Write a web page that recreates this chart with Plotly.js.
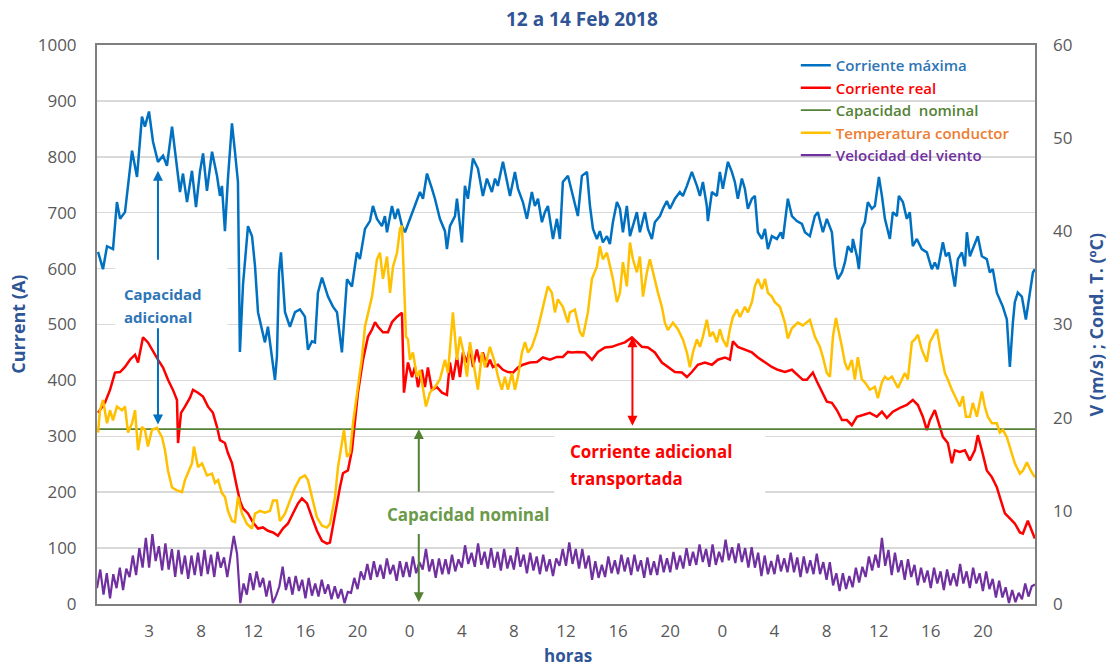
<!DOCTYPE html>
<html>
<head>
<meta charset="utf-8">
<script src="https://cdn.plot.ly/plotly-3.0.1.min.js"></script>
<style>
  html, body { margin: 0; padding: 0; background: #ffffff; }
  #chart { width: 1110px; height: 668px; }
</style>
</head>
<body>
<div id="chart"></div>
<script>
// ---------------- DATA ----------------
const titulo = "12 a 14 Feb 2018";
const tickHoras = [4, 8, 12, 16, 20, 24, 28, 32, 36, 40, 44, 48, 52, 56, 60, 64, 68];
const tickEtiquetas = ["3", "8", "12", "16", "20", "0", "4", "8", "12", "16", "20", "0", "4", "8", "12", "16", "20"];

const capacidadNominal = 313; // A

// Corriente máxima (A)
const horaMax = [0.08,0.46,0.77,1.23,1.53,1.77,2.15,2.69,3.07,3.45,3.68,3.99,4.30,4.68,5.07,5.37,5.76,6.14,6.37,6.60,6.91,7.29,7.60,7.90,8.14,8.44,8.83,9.21,9.44,9.59,9.82,10.05,10.36,10.59,10.82,10.97,11.21,11.59,11.90,12.13,12.36,12.66,12.89,13.12,13.43,13.66,13.81,13.97,14.12,14.43,14.81,15.20,15.58,15.96,16.19,16.50,16.73,16.96,17.27,17.73,18.11,18.42,18.80,19.19,19.57,19.95,20.18,20.57,20.95,21.18,21.49,21.87,22.10,22.26,22.64,22.87,23.10,23.41,23.64,24.02,24.41,24.79,25.02,25.33,25.71,25.94,26.32,26.71,26.86,27.09,27.48,27.63,28.01,28.24,28.47,28.86,29.24,29.62,29.93,30.31,30.55,30.77,31.16,31.47,31.70,32.08,32.31,32.69,33.00,33.38,33.61,33.85,34.15,34.38,34.61,35.00,35.30,35.53,35.76,36.15,36.53,36.91,37.22,37.61,37.84,38.07,38.37,38.60,38.83,39.14,39.37,39.60,39.91,40.14,40.37,40.67,40.91,41.14,41.44,41.67,42.06,42.29,42.59,42.82,43.21,43.44,43.74,43.98,44.36,44.74,44.97,45.28,45.66,46.05,46.28,46.51,46.81,46.89,47.20,47.58,47.81,48.04,48.43,48.73,48.96,49.19,49.50,49.73,49.96,50.27,50.50,50.73,51.04,51.27,51.50,51.80,52.19,52.49,52.65,53.03,53.34,53.72,54.11,54.34,54.72,55.10,55.33,55.72,56.02,56.41,56.64,56.87,57.18,57.41,57.64,57.94,58.02,58.33,58.48,58.71,58.94,59.17,59.48,59.71,60.02,60.25,60.48,60.86,61.09,61.40,61.55,61.86,62.16,62.39,62.62,62.93,63.31,63.70,64.08,64.31,64.54,64.93,65.16,65.39,65.69,65.85,66.08,66.39,66.62,66.77,67.00,67.23,67.61,67.92,68.30,68.53,68.76,69.07,69.30,69.53,69.84,70.07,70.30,70.45,70.68,70.99,71.30,71.61,71.84,71.99];
const corrienteMaxima = [630,599,640,635,719,689,701,811,764,872,854,881,827,791,802,784,854,784,737,770,719,775,710,773,806,739,809,766,730,748,667,761,860,809,755,451,572,676,658,604,522,491,468,496,437,401,442,593,629,522,496,522,527,514,455,470,468,557,584,550,532,522,450,581,568,629,617,671,685,712,689,676,694,665,712,689,707,676,665,689,712,737,725,770,743,725,689,667,635,676,694,725,647,748,725,797,779,730,761,737,761,748,791,755,730,773,743,719,689,737,712,725,683,701,712,653,689,653,755,766,730,694,766,773,712,671,653,667,647,658,644,683,719,707,665,712,658,676,701,665,701,671,653,683,694,707,721,707,725,737,730,748,773,748,730,755,712,685,737,730,773,743,791,773,755,725,761,743,707,725,730,665,653,671,635,658,653,665,653,725,694,685,680,665,658,694,701,665,689,665,604,581,593,611,640,629,653,622,599,671,683,719,707,712,764,730,689,653,701,694,730,719,689,701,640,653,635,629,599,611,599,647,622,629,593,568,617,629,604,665,622,635,658,622,617,593,599,557,545,532,509,424,503,540,557,550,509,557,593,599];

// Corriente real (A)
const horaReal = [0.08,0.61,1.00,1.38,1.77,2.15,2.53,2.92,3.15,3.53,3.91,4.30,4.68,5.07,5.45,5.83,6.14,6.22,6.45,6.75,7.14,7.37,7.75,8.14,8.52,8.90,9.21,9.44,9.82,10.05,10.36,10.74,10.97,11.21,11.59,11.97,12.36,12.74,13.12,13.51,13.89,14.27,14.66,15.04,15.43,15.73,16.12,16.50,16.88,17.27,17.65,17.88,18.27,18.65,18.88,19.26,19.57,19.80,20.03,20.42,20.80,21.11,21.34,21.57,21.95,22.33,22.64,23.03,23.41,23.56,23.87,24.18,24.41,24.64,24.94,25.17,25.40,25.71,26.09,26.48,26.86,27.09,27.32,27.63,27.86,28.09,28.40,28.63,28.86,29.16,29.39,29.62,29.93,30.16,30.39,30.78,31.16,31.54,31.93,32.31,32.69,33.23,33.77,34.23,34.77,35.30,35.76,36.15,36.45,36.91,37.45,37.99,38.45,38.99,39.52,39.99,40.52,41.06,41.44,41.83,42.29,42.82,43.36,43.82,44.36,44.90,45.28,45.66,46.12,46.66,47.20,47.66,48.20,48.58,48.81,49.19,49.73,50.27,50.73,51.27,51.80,52.26,52.80,53.34,53.80,54.18,54.49,54.95,55.26,55.64,56.02,56.41,56.79,57.18,57.56,57.94,58.33,58.79,59.32,59.86,60.25,60.63,61.09,61.63,62.16,62.62,63.01,63.39,63.70,63.93,64.31,64.54,64.93,65.31,65.62,65.85,66.23,66.62,67.00,67.38,67.61,67.92,68.30,68.69,69.07,69.30,69.69,70.07,70.45,70.84,71.07,71.45,71.76,71.99];
const corrienteReal = [342,360,383,414,415,424,437,446,432,477,468,451,437,423,401,383,365,288,342,353,369,383,378,371,353,342,317,293,288,270,252,209,185,171,162,146,135,137,131,128,122,135,144,162,180,189,180,155,131,113,108,110,162,209,234,239,275,324,378,437,478,491,504,496,486,486,504,514,521,378,432,406,424,388,419,388,423,383,388,378,374,432,401,442,406,450,432,460,424,455,432,450,424,437,424,428,419,415,414,423,428,432,433,441,437,442,442,451,450,451,450,437,451,459,460,464,468,477,468,460,459,450,432,424,415,414,406,415,428,432,428,437,441,437,470,460,455,450,441,433,424,419,415,419,410,401,401,414,398,380,362,360,347,329,329,320,335,338,342,335,344,333,344,351,356,365,356,335,311,329,347,329,299,288,252,275,272,275,257,275,302,275,239,227,209,191,162,153,144,128,126,149,131,117];

// Temperatura conductor (ºC)
const horaTemp = [0.08,0.23,0.46,0.77,1.00,1.23,1.53,1.92,2.15,2.38,2.69,2.92,3.15,3.45,3.68,3.91,4.22,4.60,4.99,5.22,5.45,5.76,6.14,6.52,6.75,6.98,7.29,7.44,7.75,8.06,8.44,8.83,9.06,9.29,9.59,9.82,10.05,10.36,10.59,10.82,11.13,11.51,11.90,12.13,12.51,12.89,13.28,13.51,13.81,14.04,14.43,14.81,15.20,15.58,15.96,16.19,16.50,16.88,17.27,17.65,17.88,18.27,18.50,18.80,18.96,19.19,19.42,19.65,19.95,20.34,20.57,20.80,21.11,21.49,21.72,21.95,22.26,22.49,22.72,23.03,23.26,23.41,23.56,23.72,23.87,24.02,24.25,24.56,24.79,25.02,25.25,25.56,25.94,26.32,26.71,26.94,27.32,27.63,27.86,28.09,28.40,28.63,29.01,29.24,29.55,29.78,30.16,30.55,30.78,31.08,31.31,31.54,31.85,32.08,32.31,32.62,32.85,33.08,33.38,33.77,34.00,34.23,34.61,34.92,35.15,35.38,35.76,36.15,36.30,36.68,37.07,37.30,37.68,37.99,38.37,38.60,38.83,39.14,39.37,39.60,39.91,40.14,40.37,40.67,40.91,41.14,41.44,41.67,41.91,42.21,42.44,42.67,43.06,43.36,43.59,43.82,44.21,44.59,44.97,45.28,45.51,45.74,46.05,46.28,46.51,46.81,47.05,47.28,47.58,47.81,48.04,48.35,48.58,48.81,49.12,49.35,49.73,49.96,50.27,50.50,50.73,51.04,51.27,51.50,51.80,52.03,52.42,52.80,53.03,53.34,53.80,54.18,54.72,55.10,55.49,55.72,56.02,56.26,56.49,56.72,56.87,57.18,57.41,57.64,57.94,58.17,58.40,58.71,58.94,59.32,59.71,59.94,60.25,60.48,60.71,61.02,61.25,61.48,61.78,62.01,62.24,62.55,62.78,63.01,63.31,63.70,63.93,64.16,64.47,64.77,65.08,65.31,65.62,66.00,66.23,66.47,66.70,67.00,67.23,67.54,67.92,68.15,68.38,68.69,69.07,69.30,69.53,69.84,70.15,70.45,70.84,71.07,71.38,71.68,71.99];
const temperaturaConductor = [18.4,20.8,21.9,19.4,20.8,19.7,21.2,20.8,21.2,18.4,19.4,20.8,16.5,19.0,18.7,16.9,18.7,18.9,17.9,16.5,14.3,12.5,12.2,12.0,13.3,14.0,15.1,16.9,14.7,15.1,13.8,14.0,13.0,13.3,11.9,11.5,10.0,8.9,8.8,11.5,9.7,8.6,8.1,9.7,10.0,9.8,10.0,11.1,11.1,8.9,9.7,11.1,12.5,13.5,13.8,13.3,11.5,9.3,8.4,8.2,8.6,11.5,14.7,17.3,18.7,15.8,16.2,19.4,22.3,26.5,29.8,31.3,33.0,37.0,37.7,34.9,37.3,33.4,36.2,37.7,40.3,40.6,35.6,28.7,28.4,26.2,27.0,24.4,25.1,23.0,21.2,22.7,23.3,24.1,26.2,24.8,31.3,26.2,28.7,27.3,24.4,28.1,25.1,23.0,27.0,25.4,27.6,25.9,24.4,23.0,24.4,23.0,24.8,23.0,24.4,27.0,28.1,27.0,27.6,29.2,30.5,31.9,34.1,33.4,31.3,32.7,31.9,30.2,31.3,31.6,29.2,28.7,31.3,34.9,36.2,38.4,37.0,37.7,36.2,34.9,32.4,33.4,36.7,34.1,38.8,37.0,35.6,37.3,33.0,35.6,37.0,35.6,33.4,31.9,30.2,29.4,30.2,29.5,28.4,27.0,25.4,27.0,28.4,27.6,28.7,30.5,28.7,29.2,28.1,29.5,28.4,27.6,29.5,30.8,31.6,30.8,31.9,31.3,32.4,34.1,34.9,33.8,34.9,33.4,33.0,32.4,31.9,30.2,28.5,29.6,30.2,29.9,30.5,28.7,27.6,26.5,24.8,24.4,28.7,30.7,29.8,27.6,25.9,25.1,26.2,24.1,26.5,24.1,23.8,23.0,23.3,22.1,23.8,24.4,24.1,24.4,23.8,23.2,24.1,24.8,24.1,28.1,28.4,28.9,27.3,26.0,28.1,28.7,29.5,27.0,24.8,24.1,23.0,21.9,21.2,22.3,20.1,20.1,21.6,20.1,22.8,21.2,20.1,19.4,19.4,18.4,18.7,17.9,16.5,15.1,14.0,14.3,15.2,14.3,13.6];

// Velocidad del viento (m/s), one reading every 15 min from hour 0
const pasoViento = 0.25;
const velocidadViento = [
1.7,3.7,1.0,3.3, 0.6,3.2,1.7,3.9, 1.5,3.8,2.9,5.2, 3.1,6.0,3.9,7.1,
3.9,7.5,4.6,6.2, 3.6,6.5,3.7,5.9, 2.9,5.8,3.2,5.2, 2.7,5.2,3.1,5.5,
3.0,5.8,3.2,5.3, 2.9,5.6,3.9,5.0, 2.9,4.9,7.3,5.4, 0.1,2.2,1.0,3.3,
1.5,3.5,1.8,2.8, 0.8,2.5,0.1,0.9, 1.9,4.0,1.5,2.9, 1.0,3.0,1.4,2.6,
0.6,2.8,0.9,2.2, 0.8,2.6,1.1,2.1, 0.5,1.9,0.6,1.6, 0.1,1.3,1.2,2.8,
1.6,3.5,2.6,4.3, 2.6,4.6,2.9,4.2, 2.7,4.9,3.2,4.2, 2.5,4.6,2.9,4.5,
2.9,5.1,3.3,4.5, 3.7,5.9,3.5,4.8, 2.8,4.9,3.2,4.8, 3.2,5.3,3.5,4.8,
3.9,6.3,4.3,5.5, 4.0,6.5,4.2,5.6, 3.8,6.0,3.9,5.6, 3.6,5.9,3.8,5.2,
3.7,6.1,4.0,5.3, 3.3,5.5,3.6,5.1, 3.2,5.3,3.5,4.8, 3.0,4.9,4.1,5.9,
4.1,6.6,4.3,5.9, 3.8,5.9,3.8,5.2, 2.6,4.6,2.8,4.2, 2.9,5.1,3.3,4.7,
3.2,5.3,3.5,5.0, 3.1,5.3,3.5,4.7, 2.8,5.0,3.1,4.6, 3.1,5.3,3.4,4.9,
3.4,5.6,3.7,5.2, 3.8,6.0,4.1,5.6, 4.2,6.4,4.5,5.9, 4.0,6.4,4.2,5.6,
4.5,6.9,4.7,6.1, 4.4,6.5,4.5,6.0, 3.9,6.1,3.9,5.5, 3.0,5.2,3.2,4.6,
3.2,5.3,3.5,4.9, 3.4,5.5,3.4,5.0, 2.9,5.1,3.3,4.7, 3.2,5.4,3.2,4.5,
2.6,4.5,2.0,3.3, 1.4,3.3,1.6,3.0, 1.8,3.9,2.3,4.0, 2.9,5.1,3.6,5.3,
3.9,7.1,4.1,5.8, 3.1,5.5,3.4,4.7, 2.6,4.8,2.9,4.2, 2.0,3.9,2.3,3.6,
1.7,3.9,2.2,3.5, 1.5,3.7,2.0,3.3, 1.9,4.3,2.2,3.5, 1.7,3.9,2.2,3.3,
1.4,3.5,1.6,2.7, 0.7,2.5,0.7,1.8, 0.1,1.5,0.2,1.2, 0.5,2.2,0.8,1.9,
2.1];
const horaViento = velocidadViento.map((_, i) => i * pasoViento);

// ---------------- STYLE ----------------
const FONT = "'Open Sans', 'Liberation Sans', sans-serif";
const C_BLUE = "#0070C0", C_RED = "#FF0000", C_GREEN = "#548235",
      C_YELLOW = "#FFC000", C_PURPLE = "#7030A0", C_TITLE = "#2F5597";
const tickFont = { family: FONT, size: 17, color: "#595959" };

function legendName(txt, col) { return '<span style="color:' + col + '">' + txt + '</span>'; }

const traces = [
  { x: horaMax, y: corrienteMaxima, type: "scatter", mode: "lines", yaxis: "y",
    name: legendName("Corriente máxima", "#2E75B6"), legendgroup: "a",
    line: { color: C_BLUE, width: 2.5 }, hoverinfo: "skip" },
  { x: horaReal, y: corrienteReal, type: "scatter", mode: "lines", yaxis: "y",
    name: legendName("Corriente real", "#FF0000"), legendgroup: "b",
    line: { color: C_RED, width: 2.5 }, hoverinfo: "skip" },
  { x: [0, 72], y: [capacidadNominal, capacidadNominal], type: "scatter", mode: "lines", yaxis: "y",
    name: legendName("Capacidad&nbsp;&nbsp;nominal", "#548235"), legendgroup: "c",
    line: { color: C_GREEN, width: 1.8 }, hoverinfo: "skip" },
  { x: horaTemp, y: temperaturaConductor, type: "scatter", mode: "lines", yaxis: "y2",
    name: legendName("Temperatura conductor", "#ED7D31"), legendgroup: "d",
    line: { color: C_YELLOW, width: 2.5 }, hoverinfo: "skip" },
  { x: horaViento, y: velocidadViento, type: "scatter", mode: "lines", yaxis: "y2",
    name: legendName("Velocidad del viento", "#7030A0"), legendgroup: "e",
    line: { color: C_PURPLE, width: 2.2 }, hoverinfo: "skip" }
];

function realAt(h) { // value of corriente real nearest to hour h
  let best = 0;
  for (let i = 1; i < horaReal.length; i++) if (Math.abs(horaReal[i] - h) < Math.abs(horaReal[best] - h)) best = i;
  return corrienteReal[best];
}
const hArrowBlue = 4.68, hArrowGreen = 24.7, hArrowRed = 41.1;

function txt(t, x, y, size, color, anchor) {
  return { text: "<b>" + t + "</b>", xref: "x", yref: "y", x: x, y: y, showarrow: false,
           font: { family: FONT, size: size, color: color }, xanchor: anchor, yanchor: "middle" };
}

const annotations = [
  { text: "<b>" + titulo + "</b>", xref: "paper", yref: "paper", x: 0.517, y: 1.046,
    showarrow: false, font: { family: FONT, size: 19, color: C_TITLE }, xanchor: "center", yanchor: "middle" },
  { text: "<b>Current (A)</b>", xref: "paper", yref: "paper", x: -0.085, y: 0.5, textangle: -90,
    showarrow: false, font: { family: FONT, size: 18, color: C_TITLE }, xanchor: "center", yanchor: "middle" },
  { text: "<b>V (m/s) ; Cond. T. (ºC)</b>", xref: "paper", yref: "paper", x: 1.064, y: 0.5, textangle: -90,
    showarrow: false, font: { family: FONT, size: 18, color: C_TITLE }, xanchor: "center", yanchor: "middle" },
  { text: "<b>horas</b>", xref: "paper", yref: "paper", x: 0.502, y: -0.0915,
    showarrow: false, font: { family: FONT, size: 17, color: C_TITLE }, xanchor: "center", yanchor: "middle" },

  txt("Capacidad", 1.92, 554, 15, "#2E75B6", "left"),
  txt("adicional", 1.92, 513, 15, "#2E75B6", "left"),
  txt("Capacidad nominal", 28.5, 160, 17, "#6A9A4A", "center"),
  txt("Corriente adicional", 36.15, 272, 17, "#FF0000", "left"),
  txt("transportada", 36.15, 225, 17, "#FF0000", "left"),

  // arrows
  { text: "", xref: "x", yref: "y", axref: "x", ayref: "y", x: hArrowBlue, y: 775, ax: hArrowBlue, ay: 613,
    showarrow: true, arrowhead: 2, arrowsize: 1, arrowwidth: 2, arrowcolor: C_BLUE },
  { text: "", xref: "x", yref: "y", axref: "x", ayref: "y", x: hArrowBlue, y: capacidadNominal + 8, ax: hArrowBlue, ay: 496,
    showarrow: true, arrowhead: 2, arrowsize: 1, arrowwidth: 2, arrowcolor: C_BLUE },
  { text: "", xref: "x", yref: "y", axref: "x", ayref: "y", x: hArrowGreen, y: capacidadNominal, ax: hArrowGreen, ay: 198,
    showarrow: true, arrowhead: 2, arrowsize: 1, arrowwidth: 2, arrowcolor: C_GREEN },
  { text: "", xref: "x", yref: "y", axref: "x", ayref: "y", x: hArrowGreen, y: 3, ax: hArrowGreen, ay: 128,
    showarrow: true, arrowhead: 2, arrowsize: 1, arrowwidth: 2, arrowcolor: C_GREEN },
  { text: "", xref: "x", yref: "y", axref: "x", ayref: "y", x: hArrowRed, y: realAt(hArrowRed), ax: hArrowRed, ay: capacidadNominal + 3,
    showarrow: true, arrowhead: 2, startarrowhead: 2, arrowside: "end+start", arrowsize: 1, startarrowsize: 1,
    arrowwidth: 2, arrowcolor: C_RED }
];

const shapes = [
  { type: "rect", xref: "x", yref: "y", x0: 1.4, x1: 10.0, y0: 478, y1: 612, layer: "between",
    fillcolor: "#ffffff", line: { width: 0 } },
  { type: "rect", xref: "x", yref: "y", x0: 35.1, x1: 51.3, y0: 176, y1: 306, layer: "between",
    fillcolor: "#ffffff", line: { width: 0 } }
];

const layout = {
  width: 1110, height: 668,
  margin: { l: 97, r: 75, t: 45, b: 64, pad: 0 },
  paper_bgcolor: "#ffffff", plot_bgcolor: "#ffffff",
  font: { family: FONT, color: "#595959" },
  showlegend: true,
  legend: {
    x: 0.745, y: 0.993, xanchor: "left", yanchor: "top",
    bgcolor: "rgba(0,0,0,0)", borderwidth: 0,
    font: { family: FONT, size: 15, weight: 600 },
    traceorder: "grouped", tracegroupgap: 0
  },
  xaxis: {
    range: [0, 72], tickmode: "array", tickvals: tickHoras, ticktext: tickEtiquetas,
    showgrid: false, zeroline: false, showline: true, mirror: true,
    linecolor: "#7F7F7F", linewidth: 2, ticks: "", tickfont: tickFont, ticklabelstandoff: 11
  },
  yaxis: {
    range: [0, 1000], tickmode: "linear", tick0: 0, dtick: 100,
    showgrid: true, gridcolor: "#D9D9D9", gridwidth: 1.5, zeroline: false,
    showline: true, mirror: true, linecolor: "#7F7F7F", linewidth: 2,
    ticks: "", tickfont: tickFont, ticklabelstandoff: 15
  },
  yaxis2: {
    overlaying: "y", side: "right", range: [0, 60], tickmode: "linear", tick0: 0, dtick: 10,
    showgrid: false, zeroline: false, showline: false, ticks: "", tickfont: tickFont, ticklabelstandoff: 17
  },
  annotations: annotations,
  shapes: shapes
};

Plotly.newPlot("chart", traces, layout, { staticPlot: true, displayModeBar: false });
</script>
</body>
</html>
